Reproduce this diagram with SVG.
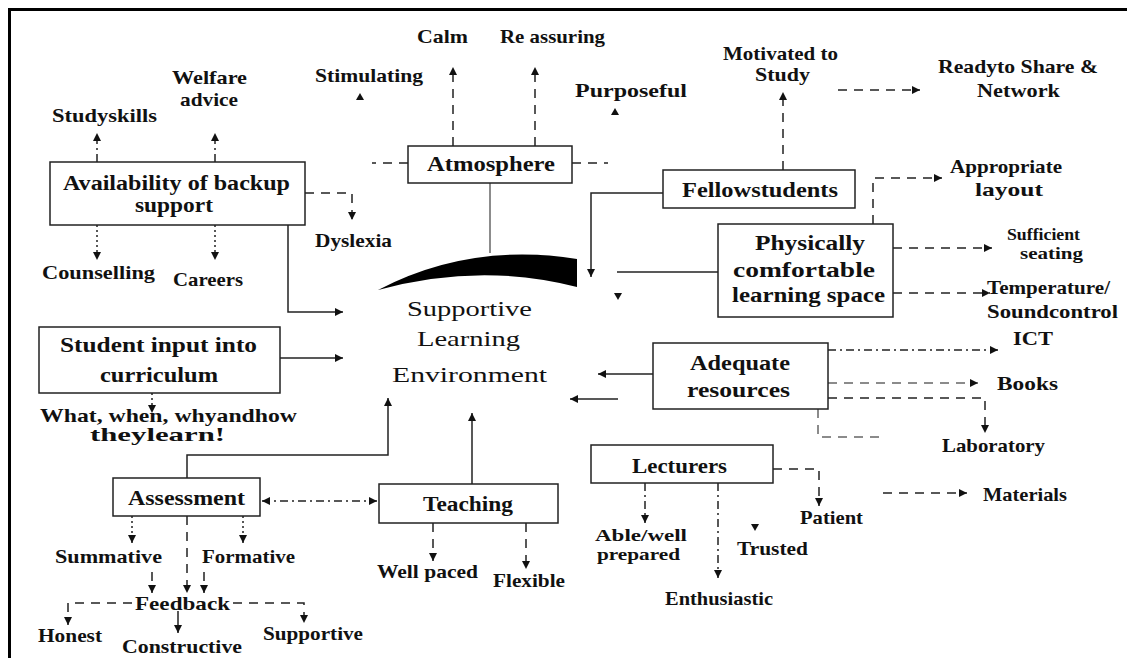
<svg xmlns="http://www.w3.org/2000/svg" width="1127" height="658" viewBox="0 0 1127 658">
<style>
.bg{fill:#fff}
.frame{stroke:#000;stroke-width:3;fill:none}
.box{fill:#fff;stroke:#222;stroke-width:1.5}
.t{font-family:"Liberation Serif",serif;font-size:19px;font-weight:bold;fill:#111;text-anchor:middle}
.b{font-size:20px}
.s{font-size:16px}
.c{font-size:22px;font-weight:normal}
.ln{fill:none;stroke:#222;stroke-width:1.5}
.dash{stroke-dasharray:9 7}
.dot{stroke-dasharray:2 3}
.dd{stroke-dasharray:8 4 2 4}
.gray{stroke:#666}
.ah{fill:#111}
</style>
<defs>
<marker id="a" viewBox="0 0 10 10" refX="10" refY="5" markerWidth="8" markerHeight="8" markerUnits="userSpaceOnUse" orient="auto"><path d="M0,0 L10,5 L0,10 Z" fill="#111"/></marker>
<marker id="s" viewBox="0 0 10 10" refX="0" refY="5" markerWidth="8" markerHeight="8" markerUnits="userSpaceOnUse" orient="auto"><path d="M10,0 L0,5 L10,10 Z" fill="#111"/></marker>
</defs>
<rect class="bg" x="0" y="0" width="1127" height="658"/>
<path class="frame" d="M9.5,658 V9.5 H1127"/>

<g id="connectors">
<path class="ln dd" d="M97,162 V133" marker-end="url(#a)"/>
<path class="ln dd" d="M215,162 V133" marker-end="url(#a)"/>
<path class="ln dot" d="M97,225 V260" marker-end="url(#a)"/>
<path class="ln dot" d="M215,225 V260" marker-end="url(#a)"/>
<path class="ln dash" d="M305,193 H352 V220" marker-end="url(#a)"/>
<path class="ln" d="M288,225 V312 H343" marker-end="url(#a)"/>
<path class="ln dash" d="M408,163 H372"/>
<path class="ln dash" d="M572,163 H608"/>
<path class="ln dash" d="M453,146 V67" marker-end="url(#a)"/>
<path class="ln dash" d="M535,146 V67" marker-end="url(#a)"/>
<polygon class="ah" points="360,93 364,100 356,100"/>
<polygon class="ah" points="615,108 619,115 611,115"/>
<path class="ln gray" d="M490,183 V253"/>
<path d="M378,290 Q470,242 577,259 L577,287 Q480,262 378,290 Z" fill="#000"/>
<path class="ln dash" d="M783,170 V92" marker-end="url(#a)"/>
<path class="ln dash" d="M838,90 H920" marker-end="url(#a)"/>
<path class="ln" d="M663,193 H591 V277" marker-end="url(#a)"/>
<path class="ln" d="M617,272 H718"/>
<polygon class="ah" points="618,300 614,293 622,293"/>
<path class="ln dash" d="M873,224 V178 H942" marker-end="url(#a)"/>
<path class="ln dash" d="M893,248 H992" marker-end="url(#a)"/>
<path class="ln dash" d="M893,293 H990" marker-end="url(#a)"/>
<path class="ln" d="M280,358 H343" marker-end="url(#a)"/>
<path class="ln dot" d="M152,393 V413" marker-end="url(#a)"/>
<path class="ln" d="M653,374 H598" marker-end="url(#a)"/>
<path class="ln" d="M618,399 H570" marker-end="url(#a)"/>
<path class="ln dd" d="M828,350 H998" marker-end="url(#a)"/>
<path class="ln dash gray" d="M828,383 H978" marker-end="url(#a)"/>
<path class="ln dash" d="M828,398 H985 V433" marker-end="url(#a)"/>
<path class="ln dash gray" d="M818,409 V437 H882"/>
<path class="ln dash" d="M883,493 H967" marker-end="url(#a)"/>
<path class="ln dash" d="M773,469 H819 V506" marker-end="url(#a)"/>
<polygon class="ah" points="755,531 751,524 759,524"/>
<path class="ln dd" d="M645,483 V523" marker-end="url(#a)"/>
<path class="ln dd" d="M718,483 V578" marker-end="url(#a)"/>
<path class="ln" d="M187,478 V455 H388 V398" marker-end="url(#a)"/>
<path class="ln" d="M472,484 V413" marker-end="url(#a)"/>
<path class="ln dd" d="M262,501 H377" marker-start="url(#s)" marker-end="url(#a)"/>
<path class="ln dash" d="M433,523 V561" marker-end="url(#a)"/>
<path class="ln dash" d="M526,523 V569" marker-end="url(#a)"/>
<path class="ln dot" d="M132,516 V543" marker-end="url(#a)"/>
<path class="ln dot" d="M243,516 V543" marker-end="url(#a)"/>
<path class="ln dash" d="M187,516 V593" marker-end="url(#a)"/>
<path class="ln dash" d="M152,572 V593" marker-end="url(#a)"/>
<path class="ln dash" d="M204,572 V593" marker-end="url(#a)"/>
<path class="ln dash" d="M132,603 H68 V625" marker-end="url(#a)"/>
<path class="ln dash" d="M233,603 H304 V623" marker-end="url(#a)"/>
<path class="ln" d="M178,611 V633" marker-end="url(#a)"/>
</g>

<g id="center">
<text class="t c" x="469.5" y="316" textLength="125" lengthAdjust="spacingAndGlyphs">Supportive</text>
<text class="t c" x="468.5" y="346" textLength="103" lengthAdjust="spacingAndGlyphs">Learning</text>
<text class="t c" x="469.5" y="382" textLength="155" lengthAdjust="spacingAndGlyphs">Environment</text>
</g>

<g id="backup">
<rect class="box" x="50" y="162" width="255" height="63"/>
<text class="t b" x="176.5" y="190" textLength="227" lengthAdjust="spacingAndGlyphs">Availability of backup</text>
<text class="t b" x="174" y="212" textLength="78" lengthAdjust="spacingAndGlyphs">support</text>
</g>
<g id="studyskills"><text class="t" x="104.5" y="122" textLength="105" lengthAdjust="spacingAndGlyphs">Studyskills</text></g>
<g id="welfare">
<text class="t" x="209.5" y="84" textLength="75" lengthAdjust="spacingAndGlyphs">Welfare</text>
<text class="t" x="209" y="106" textLength="58" lengthAdjust="spacingAndGlyphs">advice</text>
</g>
<g id="counselling"><text class="t" x="98.5" y="279" textLength="113" lengthAdjust="spacingAndGlyphs">Counselling</text></g>
<g id="careers"><text class="t" x="208" y="286" textLength="70" lengthAdjust="spacingAndGlyphs">Careers</text></g>
<g id="dyslexia"><text class="t" x="353.5" y="247" textLength="77" lengthAdjust="spacingAndGlyphs">Dyslexia</text></g>

<g id="atmosphere">
<rect class="box" x="408" y="146" width="164" height="37"/>
<text class="t b" x="491" y="171" textLength="128" lengthAdjust="spacingAndGlyphs">Atmosphere</text>
</g>
<g id="calm"><text class="t" x="442.5" y="43" textLength="51" lengthAdjust="spacingAndGlyphs">Calm</text></g>
<g id="reassuring"><text class="t" x="552.5" y="43" textLength="105" lengthAdjust="spacingAndGlyphs">Re assuring</text></g>
<g id="stimulating"><text class="t" x="369" y="82" textLength="108" lengthAdjust="spacingAndGlyphs">Stimulating</text></g>
<g id="purposeful"><text class="t" x="631" y="97" textLength="112" lengthAdjust="spacingAndGlyphs">Purposeful</text></g>

<g id="fellow">
<rect class="box" x="663" y="170" width="192" height="38"/>
<text class="t b" x="760" y="197" textLength="156" lengthAdjust="spacingAndGlyphs">Fellowstudents</text>
</g>
<g id="motivated">
<text class="t" x="780.5" y="60" textLength="115" lengthAdjust="spacingAndGlyphs">Motivated to</text>
<text class="t" x="782.5" y="81" textLength="55" lengthAdjust="spacingAndGlyphs">Study</text>
</g>
<g id="ready">
<text class="t" x="1018" y="73" textLength="160" lengthAdjust="spacingAndGlyphs">Readyto Share &amp;</text>
<text class="t" x="1018.5" y="97" textLength="83" lengthAdjust="spacingAndGlyphs">Network</text>
</g>

<g id="physical">
<rect class="box" x="718" y="224" width="175" height="93"/>
<text class="t b" x="810" y="250" textLength="110" lengthAdjust="spacingAndGlyphs">Physically</text>
<text class="t b" x="804" y="277" textLength="142" lengthAdjust="spacingAndGlyphs">comfortable</text>
<text class="t b" x="808.5" y="302" textLength="153" lengthAdjust="spacingAndGlyphs">learning space</text>
</g>
<g id="appropriate">
<text class="t" x="1006" y="173" textLength="112" lengthAdjust="spacingAndGlyphs">Appropriate</text>
<text class="t" x="1009" y="196" textLength="68" lengthAdjust="spacingAndGlyphs">layout</text>
</g>
<g id="sufficient">
<text class="t s" x="1043.5" y="240" textLength="73" lengthAdjust="spacingAndGlyphs">Sufficient</text>
<text class="t s" x="1051.5" y="259" textLength="63" lengthAdjust="spacingAndGlyphs">seating</text>
</g>
<g id="temperature">
<text class="t" x="1048.5" y="294" textLength="123" lengthAdjust="spacingAndGlyphs">Temperature/</text>
<text class="t" x="1052.5" y="318" textLength="131" lengthAdjust="spacingAndGlyphs">Soundcontrol</text>
</g>

<g id="student">
<rect class="box" x="39" y="327" width="241" height="66"/>
<text class="t b" x="158.5" y="352" textLength="197" lengthAdjust="spacingAndGlyphs">Student input into</text>
<text class="t b" x="159" y="382" textLength="118" lengthAdjust="spacingAndGlyphs">curriculum</text>
</g>
<g id="what">
<text class="t" x="168.5" y="422" textLength="257" lengthAdjust="spacingAndGlyphs">What, when, whyandhow</text>
<text class="t" x="157.5" y="441" textLength="135" lengthAdjust="spacingAndGlyphs">theylearn!</text>
</g>

<g id="adequate">
<rect class="box" x="653" y="343" width="175" height="66"/>
<text class="t b" x="740" y="370" textLength="100" lengthAdjust="spacingAndGlyphs">Adequate</text>
<text class="t b" x="738.5" y="397" textLength="103" lengthAdjust="spacingAndGlyphs">resources</text>
</g>
<g id="ict"><text class="t" x="1033" y="345" textLength="40" lengthAdjust="spacingAndGlyphs">ICT</text></g>
<g id="books"><text class="t" x="1027.5" y="390" textLength="61" lengthAdjust="spacingAndGlyphs">Books</text></g>
<g id="laboratory"><text class="t" x="993.5" y="452" textLength="103" lengthAdjust="spacingAndGlyphs">Laboratory</text></g>
<g id="materials"><text class="t" x="1025" y="501" textLength="84" lengthAdjust="spacingAndGlyphs">Materials</text></g>

<g id="lecturers">
<rect class="box" x="591" y="445" width="182" height="38"/>
<text class="t b" x="679.5" y="473" textLength="95" lengthAdjust="spacingAndGlyphs">Lecturers</text>
</g>
<g id="able">
<text class="t s" x="641" y="541" textLength="92" lengthAdjust="spacingAndGlyphs">Able/well</text>
<text class="t s" x="638.5" y="560" textLength="83" lengthAdjust="spacingAndGlyphs">prepared</text>
</g>
<g id="trusted"><text class="t" x="772.5" y="555" textLength="71" lengthAdjust="spacingAndGlyphs">Trusted</text></g>
<g id="patient"><text class="t" x="831.5" y="524" textLength="63" lengthAdjust="spacingAndGlyphs">Patient</text></g>
<g id="enthusiastic"><text class="t" x="719" y="605" textLength="108" lengthAdjust="spacingAndGlyphs">Enthusiastic</text></g>

<g id="assessment">
<rect class="box" x="113" y="478" width="147" height="38"/>
<text class="t b" x="186.5" y="505" textLength="117" lengthAdjust="spacingAndGlyphs">Assessment</text>
</g>
<g id="teaching">
<rect class="box" x="379" y="484" width="179" height="39"/>
<text class="t b" x="468" y="511" textLength="90" lengthAdjust="spacingAndGlyphs">Teaching</text>
</g>
<g id="summative"><text class="t" x="108.5" y="563" textLength="107" lengthAdjust="spacingAndGlyphs">Summative</text></g>
<g id="formative"><text class="t" x="248.5" y="563" textLength="93" lengthAdjust="spacingAndGlyphs">Formative</text></g>
<g id="feedback"><text class="t" x="182.5" y="610" textLength="95" lengthAdjust="spacingAndGlyphs">Feedback</text></g>
<g id="honest"><text class="t" x="70" y="642" textLength="64" lengthAdjust="spacingAndGlyphs">Honest</text></g>
<g id="constructive"><text class="t" x="182" y="653" textLength="120" lengthAdjust="spacingAndGlyphs">Constructive</text></g>
<g id="supportive2"><text class="t" x="313" y="640" textLength="100" lengthAdjust="spacingAndGlyphs">Supportive</text></g>
<g id="wellpaced"><text class="t" x="427.5" y="578" textLength="101" lengthAdjust="spacingAndGlyphs">Well paced</text></g>
<g id="flexible"><text class="t" x="529" y="587" textLength="72" lengthAdjust="spacingAndGlyphs">Flexible</text></g>
</svg>
